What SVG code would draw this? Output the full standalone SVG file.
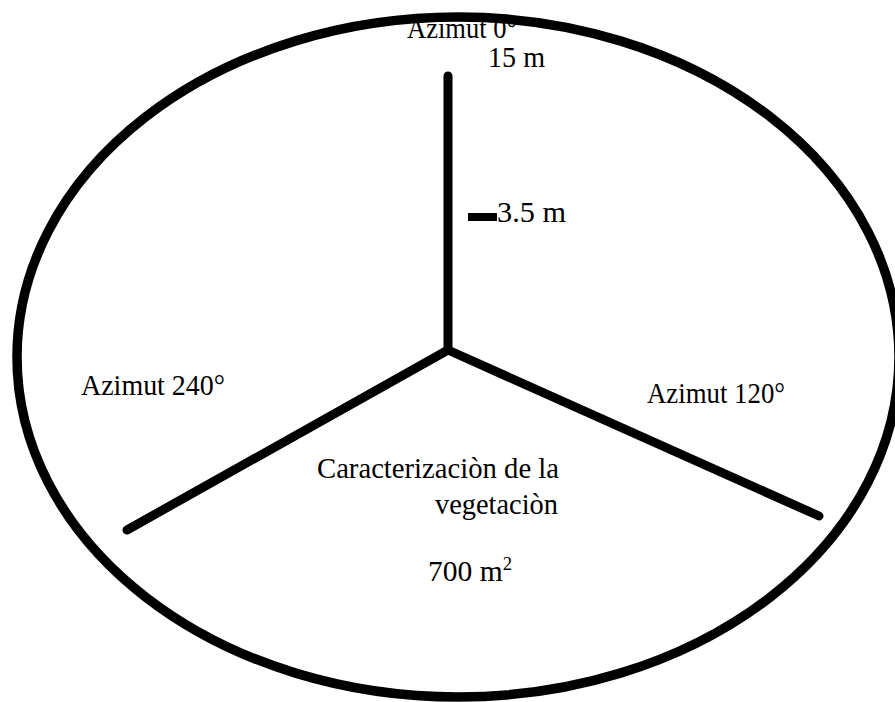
<svg xmlns="http://www.w3.org/2000/svg" width="895" height="702" viewBox="0 0 895 702">
<style>
.t{font-family:"Liberation Serif","Times New Roman",serif;font-size:30px;fill:#000}
.ln{stroke:#000;stroke-width:9;stroke-linecap:round;fill:none}
</style>
<rect width="895" height="702" fill="#fff"/>
<g id="labels">
<text class="t" x="407" y="38" textLength="110" lengthAdjust="spacingAndGlyphs">Azimut 0°</text>
<text class="t" x="488" y="67" textLength="57" lengthAdjust="spacingAndGlyphs">15 m</text>
<text class="t" x="497" y="222" textLength="69" lengthAdjust="spacingAndGlyphs">3.5 m</text>
<text class="t" x="81" y="395" textLength="144" lengthAdjust="spacingAndGlyphs">Azimut 240°</text>
<text class="t" x="647" y="403" textLength="138" lengthAdjust="spacingAndGlyphs">Azimut 120°</text>
<text class="t" x="317" y="478" textLength="242" lengthAdjust="spacingAndGlyphs">Caracterizaciòn de la</text>
<text class="t" x="435" y="514" textLength="123" lengthAdjust="spacingAndGlyphs">vegetaciòn</text>
<text class="t" x="428" y="581" textLength="84" lengthAdjust="spacingAndGlyphs">700 m<tspan dy="-11" font-size="19">2</tspan></text>
</g>
<g id="plot">
<ellipse cx="458" cy="357" rx="441" ry="340" fill="none" stroke="#000" stroke-width="9.5"/>
</g>
<g id="connectors">
<line class="ln" x1="448" y1="350" x2="448" y2="76"/>
<line class="ln" x1="448" y1="350" x2="127" y2="530"/>
<line class="ln" x1="448" y1="350" x2="819" y2="516"/>
</g>
<g id="tick">
<rect x="468" y="213" width="29" height="8" fill="#000"/>
</g>
</svg>
